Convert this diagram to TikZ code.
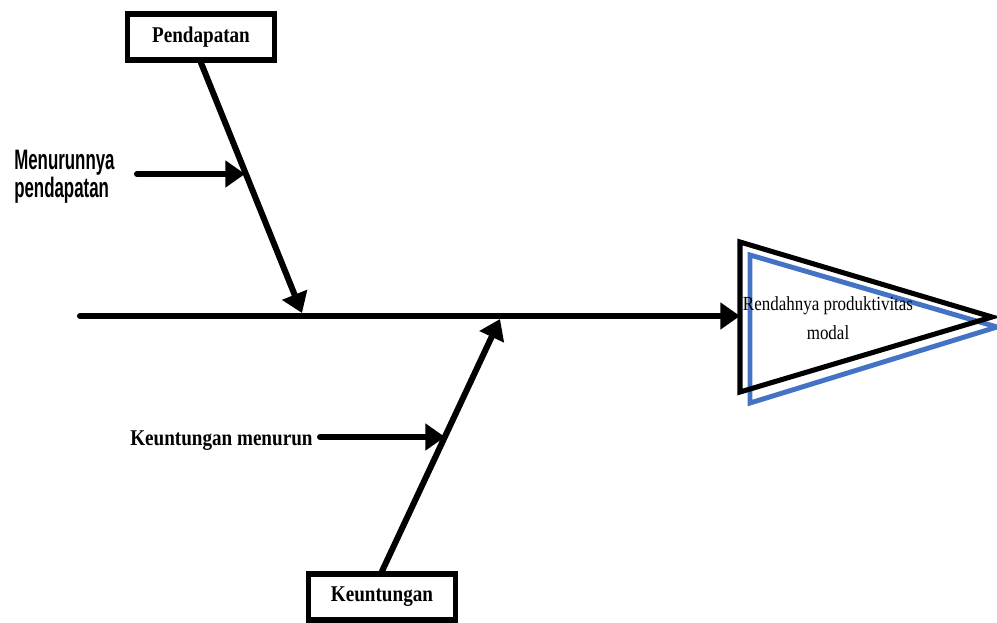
\documentclass[tikz,border=0pt]{standalone}
\usepackage{fontspec}
\setmainfont{Liberation Serif}[FakeStretch=0.85]
\newfontfamily\narrowsans{Liberation Sans}[FakeStretch=0.6]
\usetikzlibrary{arrows.meta}
\definecolor{fishblue}{RGB}{68,114,196}

\begin{document}
\begin{tikzpicture}[x=0.025cm,y=-0.025cm,draw/.append style={line width=4.3pt,black},
    bone/.style={draw,line cap=round,-{Triangle[length=14pt,width=18.5pt]}},
    causebox/.style={draw,line width=4pt,rectangle,inner sep=0pt,minimum width=3.68cm,minimum height=1.15cm,
        font=\bfseries\fontsize{16}{19}\selectfont},
    sublabel/.style={inner sep=0pt}]
    \useasboundingbox (0,0) rectangle (997,623);
    % head of the fish
    \draw[fishblue,line width=3.5pt] (750,255)--(997,327)--(750,403)--cycle;
    \draw[line width=3.6pt] (740,242)--(992,317)--(740,392)--cycle;
    \node[sublabel,align=center,font=\fontsize{14.2}{20.5}\selectfont] (effect) at (828,318)
        {Rendahnya produktivitas\\modal};
    % spine
    \coordinate (tail) at (80,316);
    \coordinate (head) at (740,316);
    \draw[bone] (tail)--(head);
    % causes
    \node[causebox] (pend) at (201,37) {Pendapatan};
    \node[causebox] (untung) at (382,597) {Keuntungan};
    \coordinate (jpend) at (302,313);
    \coordinate (juntung) at (500,319);
    \draw[bone] (pend.south)--(jpend);
    \draw[bone] (untung.north)--(juntung);
    % sub causes
    \node[sublabel,align=left,anchor=north west,font=\narrowsans\bfseries\fontsize{20}{15.6}\selectfont]
        (turun) at (14,150) {Menurunnya\\pendapatan};
    \node[sublabel,anchor=base west,font=\bfseries\fontsize{16}{19}\selectfont]
        (menurun) at (130,445) {Keuntungan menurun};
    \coordinate (sa) at (137,174);
    \coordinate (ta) at (245,174);
    \coordinate (sb) at (320,437);
    \coordinate (tb) at (445,437);
    \draw[bone] (sa)--(ta);
    \draw[bone] (sb)--(tb);
\end{tikzpicture}
\end{document}
